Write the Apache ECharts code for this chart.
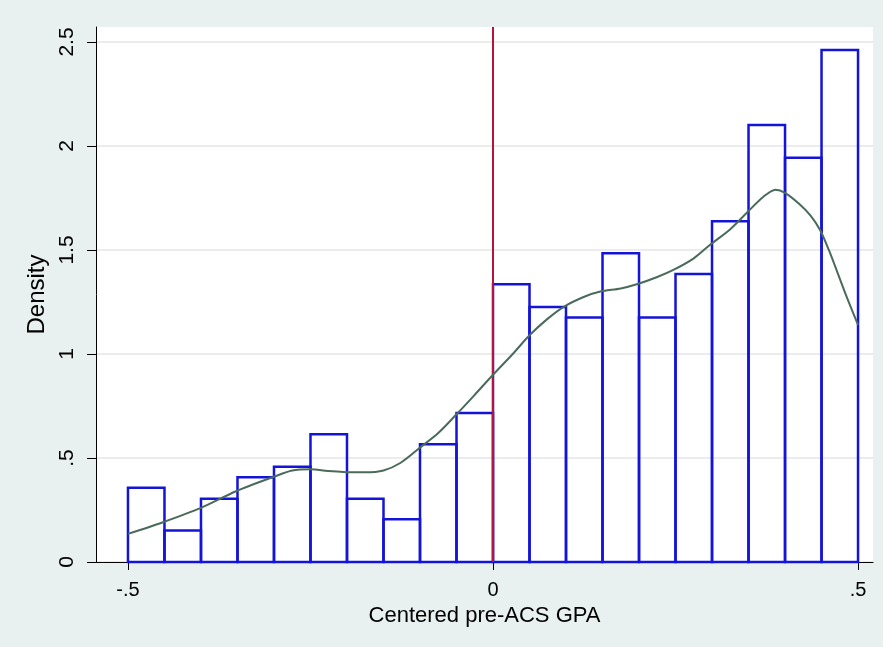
<!DOCTYPE html>
<html lang="en">
<head>
<meta charset="UTF-8">
<title>Centered pre-ACS GPA</title>
<script src="https://cdn.jsdelivr.net/npm/echarts@6/dist/echarts.min.js"></script>
<style>
  html, body { margin: 0; padding: 0; background: #e8f1ef; }
  #main { width: 883px; height: 647px; }
</style>
</head>
<body>
<div id="main"></div>
<script>
// histogram bins (width .05) and their density heights
var binStart = [-0.5, -0.45, -0.4, -0.35, -0.3, -0.25, -0.2, -0.15, -0.1, -0.05,
                0, 0.05, 0.1, 0.15, 0.2, 0.25, 0.3, 0.35, 0.4, 0.45];
var binEnd = [-0.45, -0.4, -0.35, -0.3, -0.25, -0.2, -0.15, -0.1, -0.05, 0,
              0.05, 0.1, 0.15, 0.2, 0.25, 0.3, 0.35, 0.4, 0.45, 0.5];
var density = [0.357, 0.152, 0.304, 0.407, 0.458, 0.614, 0.304, 0.205, 0.566, 0.716,
               1.335, 1.226, 1.176, 1.484, 1.176, 1.385, 1.638, 2.101, 1.944, 2.462];

// kernel density curve
var kdeX = [-0.5, -0.453, -0.4, -0.352, -0.3, -0.275, -0.25, -0.226, -0.2, -0.175,
            -0.15, -0.127, -0.1, -0.075, -0.05, -0.026, 0, 0.027, 0.05, 0.075,
            0.097, 0.125, 0.147, 0.175, 0.197, 0.225, 0.247, 0.275, 0.297, 0.325,
            0.348, 0.37, 0.387, 0.40, 0.42, 0.435, 0.448, 0.46, 0.472, 0.485, 0.5];
var kdeY = [0.135, 0.19, 0.26, 0.34, 0.41, 0.44, 0.446, 0.437, 0.432, 0.431,
            0.44, 0.476, 0.55, 0.62, 0.71, 0.80, 0.9, 1.0, 1.09, 1.17,
            1.227, 1.275, 1.30, 1.315, 1.335, 1.37, 1.404, 1.46, 1.524, 1.60,
            1.68, 1.755, 1.79, 1.775, 1.72, 1.665, 1.596, 1.50, 1.39, 1.27, 1.14];

var xTicks = [-0.5, 0, 0.5];
var xTickLabels = ['-.5', '0', '.5'];
var yTicks = [0, 0.5, 1, 1.5, 2, 2.5];
var yTickLabels = ['0', '.5', '1', '1.5', '2', '2.5'];
var cutoff = 0;

var myChart = echarts.init(document.getElementById('main'));

var bars = [];
for (var i = 0; i < density.length; i++) {
    bars.push([binStart[i], binEnd[i], density[i]]);
}
var kde = [];
for (var j = 0; j < kdeX.length; j++) {
    kde.push([kdeX[j], kdeY[j]]);
}

function tickLabel(ticks, labels) {
    return function (v) {
        for (var k = 0; k < ticks.length; k++) {
            if (Math.abs(ticks[k] - v) < 1e-9) return labels[k];
        }
        return '';
    };
}

var font = 'Liberation Sans, Arial, sans-serif';

var option = {
    backgroundColor: '#e8f1ef',
    animation: false,
    grid: {
        left: 96, right: 10, top: 27, bottom: 85,
        show: true, backgroundColor: '#ffffff', borderWidth: 0
    },
    xAxis: {
        type: 'value',
        min: -0.5438, max: 0.5205,
        name: 'Centered pre-ACS GPA',
        nameLocation: 'middle',
        nameGap: 37,
        nameTextStyle: { color: '#000', fontSize: 22, fontFamily: font },
        axisLine: { show: true, onZero: false, lineStyle: { color: '#000', width: 1 } },
        axisTick: { show: true, length: 8, customValues: xTicks, lineStyle: { color: '#000' } },
        axisLabel: {
            customValues: xTicks, formatter: tickLabel(xTicks, xTickLabels),
            color: '#000', fontSize: 20, fontFamily: font, margin: 18
        },
        splitLine: { show: false }
    },
    yAxis: {
        type: 'value',
        min: 0, max: 2.572,
        name: 'Density',
        nameLocation: 'middle',
        nameRotate: 90,
        nameGap: 39,
        nameTextStyle: { color: '#000', fontSize: 24, fontFamily: font },
        axisLine: { show: true, onZero: false, lineStyle: { color: '#000', width: 1 } },
        axisTick: { show: true, length: 9, customValues: yTicks, lineStyle: { color: '#000' } },
        axisLabel: {
            customValues: yTicks, formatter: tickLabel(yTicks, yTickLabels),
            rotate: 90, color: '#000', fontSize: 21, fontFamily: font, margin: 18
        },
        splitLine: { show: true, lineStyle: { color: '#e6e6e6', width: 1.5 } }
    },
    series: [
        {
            name: 'cutoff',
            type: 'line',
            data: [],
            markLine: {
                silent: true,
                symbol: 'none',
                label: { show: false },
                lineStyle: { color: '#b8123f', width: 2, type: 'solid' },
                data: [{ xAxis: cutoff }]
            }
        },
        {
            name: 'histogram',
            type: 'custom',
            encode: { x: [0, 1], y: 2 },
            data: bars,
            renderItem: function (params, api) {
                var p0 = api.coord([api.value(0), api.value(2)]);
                var p1 = api.coord([api.value(1), 0]);
                return {
                    type: 'rect',
                    shape: { x: p0[0], y: p0[1], width: p1[0] - p0[0], height: p1[1] - p0[1] },
                    style: { fill: 'none', stroke: '#1414d8', lineWidth: 2.5 }
                };
            }
        },
        {
            name: 'kdensity',
            type: 'line',
            data: kde,
            smooth: 0.3,
            showSymbol: false,
            lineStyle: { color: '#4a6b5c', width: 2 },
            z: 5
        }
    ]
};

myChart.setOption(option);
</script>
</body>
</html>
